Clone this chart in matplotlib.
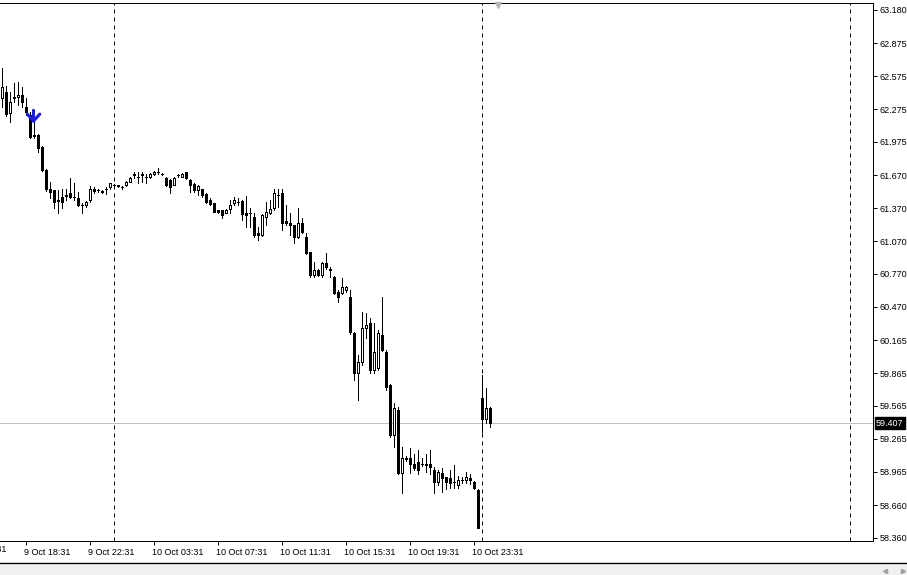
import matplotlib
matplotlib.use("Agg")
import matplotlib.pyplot as plt
import matplotlib.transforms as mtransforms
from matplotlib.lines import Line2D
from matplotlib.patches import Rectangle
import numpy as np

# M15 bars, oldest first
opens = [
    62.38, 62.43, 62.24, 62.38, 62.39, 62.40, 62.29, 62.22, 62.03, 62.04,
    61.93, 61.72, 61.55, 61.54, 61.45, 61.47, 61.49, 61.51, 61.47, 61.46,
    61.40, 61.40, 61.45, 61.55, 61.54, 61.53, 61.55, 61.56, 61.58, 61.58,
    61.56, 61.58, 61.61, 61.67, 61.66, 61.67, 61.66, 61.66, 61.68, 61.70,
    61.68, 61.65, 61.63, 61.58, 61.67, 61.66, 61.70, 61.63, 61.59, 61.54,
    61.55, 61.50, 61.45, 61.42, 61.35, 61.35, 61.33, 61.36, 61.42, 61.43,
    61.44, 61.33, 61.33, 61.29, 61.14, 61.13, 61.29, 61.33, 61.37, 61.49,
    61.51, 61.25, 61.24, 61.22, 61.11, 61.24, 61.11, 60.97, 60.76, 60.81,
    60.76, 60.87, 60.82, 60.74, 60.61, 60.60, 60.62, 60.56, 60.23, 59.87,
    59.97, 60.28, 60.32, 59.89, 59.91, 60.21, 60.06, 59.76, 59.30, 59.53,
    58.95, 59.08, 59.09, 59.04, 59.05, 59.04, 59.04, 59.04, 58.98, 58.87,
    58.95, 58.92, 58.91, 58.87, 58.84, 58.89, 58.89, 58.91, 58.87, 58.80,
    59.64, 59.45, 59.55,
]
highs = [
    62.65, 62.49, 62.43, 62.51, 62.52, 62.48, 62.38, 62.25, 62.24, 62.05,
    61.94, 61.73, 61.61, 61.54, 61.54, 61.55, 61.55, 61.65, 61.60, 61.52,
    61.42, 61.44, 61.57, 61.56, 61.55, 61.54, 61.56, 61.60, 61.59, 61.58,
    61.57, 61.62, 61.66, 61.70, 61.70, 61.70, 61.68, 61.69, 61.71, 61.74,
    61.69, 61.66, 61.64, 61.66, 61.68, 61.69, 61.70, 61.64, 61.60, 61.58,
    61.55, 61.51, 61.46, 61.42, 61.35, 61.35, 61.36, 61.45, 61.47, 61.46,
    61.45, 61.48, 61.37, 61.33, 61.20, 61.32, 61.43, 61.45, 61.55, 61.55,
    61.55, 61.40, 61.33, 61.22, 61.37, 61.28, 61.14, 60.97, 60.88, 60.82,
    60.88, 60.96, 60.83, 60.75, 60.62, 60.73, 60.66, 60.62, 60.24, 60.03,
    60.42, 60.41, 60.37, 60.32, 60.26, 60.56, 60.08, 59.77, 59.59, 59.56,
    59.19, 59.11, 59.18, 59.13, 59.16, 59.09, 59.13, 59.16, 59.01, 58.98,
    59.00, 58.92, 58.98, 59.03, 58.93, 58.92, 58.96, 58.94, 58.88, 58.81,
    59.85, 59.73, 59.56,
]
lows = [
    62.29, 62.21, 62.16, 62.34, 62.31, 62.29, 62.22, 62.01, 62.01, 61.88,
    61.71, 61.53, 61.46, 61.37, 61.33, 61.37, 61.45, 61.46, 61.45, 61.39,
    61.33, 61.38, 61.43, 61.51, 61.52, 61.51, 61.50, 61.55, 61.57, 61.56,
    61.55, 61.57, 61.61, 61.65, 61.60, 61.61, 61.60, 61.65, 61.67, 61.68,
    61.67, 61.57, 61.51, 61.58, 61.66, 61.66, 61.64, 61.52, 61.52, 61.49,
    61.47, 61.42, 61.40, 61.34, 61.33, 61.28, 61.33, 61.33, 61.40, 61.40,
    61.26, 61.20, 61.20, 61.11, 61.08, 61.12, 61.22, 61.32, 61.35, 61.38,
    61.17, 61.22, 61.13, 61.05, 61.10, 61.14, 60.95, 60.74, 60.74, 60.75,
    60.74, 60.82, 60.74, 60.59, 60.51, 60.59, 60.61, 60.22, 59.80, 59.62,
    59.94, 60.19, 59.87, 59.87, 59.89, 60.07, 59.71, 59.28, 59.19, 58.94,
    58.77, 59.06, 58.95, 58.98, 58.94, 59.02, 58.96, 58.94, 58.77, 58.84,
    58.78, 58.81, 58.82, 58.82, 58.82, 58.86, 58.86, 58.85, 58.81, 58.45,
    59.33, 59.41, 59.37,
]
closes = [
    62.48, 62.23, 62.34, 62.39, 62.40, 62.34, 62.25, 62.02, 62.04, 61.92,
    61.72, 61.55, 61.52, 61.43, 61.44, 61.43, 61.48, 61.47, 61.47, 61.40,
    61.40, 61.43, 61.55, 61.53, 61.54, 61.52, 61.55, 61.60, 61.58, 61.57,
    61.56, 61.61, 61.65, 61.68, 61.66, 61.68, 61.66, 61.68, 61.70, 61.70,
    61.68, 61.58, 61.56, 61.65, 61.67, 61.68, 61.65, 61.58, 61.54, 61.57,
    61.49, 61.43, 61.41, 61.34, 61.34, 61.31, 61.35, 61.40, 61.45, 61.43,
    61.32, 61.31, 61.33, 61.13, 61.13, 61.31, 61.34, 61.36, 61.51, 61.49,
    61.24, 61.24, 61.22, 61.11, 61.24, 61.15, 60.96, 60.76, 60.81, 60.76,
    60.87, 60.83, 60.81, 60.60, 60.56, 60.65, 60.65, 60.24, 59.87, 59.97,
    60.28, 60.30, 59.89, 60.06, 60.23, 60.08, 59.74, 59.30, 59.55, 58.95,
    59.09, 59.09, 59.04, 59.00, 58.98, 59.04, 59.03, 59.01, 58.87, 58.96,
    58.91, 58.87, 58.86, 58.87, 58.89, 58.89, 58.92, 58.89, 58.82, 58.45,
    59.45, 59.55, 59.407,
]

price_ticks = [63.180, 62.875, 62.575, 62.275, 61.975, 61.670, 61.370, 61.070,
               60.770, 60.470, 60.165, 59.865, 59.565, 59.265, 58.965, 58.660, 58.360]
time_tick_bars = [-10, 6, 22, 38, 54, 70, 86, 102, 118]
time_tick_labels = ["9 Oct 14:31", "9 Oct 18:31", "9 Oct 22:31", "10 Oct 03:31",
                    "10 Oct 07:31", "10 Oct 11:31", "10 Oct 15:31", "10 Oct 19:31",
                    "10 Oct 23:31"]
separator_bars = [28, 120, 212]
bid_price = 59.407
sell_arrow_bar = 8
sell_arrow_top, sell_arrow_tip = 62.29, 62.12
shift_marker_bar = 124

W, H = 907, 575
fig = plt.figure(figsize=(W / 100, H / 100), dpi=100)
fig.patch.set_facecolor("white")
ax = fig.add_axes([0, 34 / H, 873 / W, 538 / H])

o, h, l, c = map(np.array, (opens, highs, lows, closes))
x = np.arange(len(o))
up = c >= o
lw = 0.72  # one pixel

ax.vlines(x, l, h, color="black", lw=lw, zorder=3, antialiased=False)
bottoms = np.minimum(o, c)
heights = np.abs(c - o)
ax.bar(x[up], heights[up], width=0.5, bottom=bottoms[up], facecolor="white",
       edgecolor="black", linewidth=lw, zorder=4, antialiased=False)
ax.bar(x[~up], heights[~up], width=0.5, bottom=bottoms[~up], facecolor="black",
       edgecolor="black", linewidth=lw, zorder=4, antialiased=False)

for b in separator_bars:
    ax.axvline(b, color="black", lw=lw, linestyle=(0, (4, 4)), zorder=2)

ax.axhline(bid_price, color="#c0c0c0", lw=lw, zorder=2.5)

ax.annotate("", xy=(sell_arrow_bar, sell_arrow_tip), xytext=(sell_arrow_bar, sell_arrow_top),
            arrowprops=dict(arrowstyle="->,head_length=0.5,head_width=0.45",
                            color="#1c1ce0", lw=2.2), zorder=5)

trans_top = mtransforms.blended_transform_factory(ax.transData, ax.transAxes)
ax.plot([shift_marker_bar], [0.996], marker="v", ms=5, color="#b8b8b8",
        transform=trans_top, clip_on=False, zorder=6)

ax.set_xlim(-0.375, 217.875)
ax.set_ylim(58.3326, 63.2439)

ax.spines["left"].set_visible(False)
for s in ("top", "right", "bottom"):
    ax.spines[s].set_linewidth(lw)

font = {"family": "Liberation Sans", "size": 6.5, "color": "black"}

ax.yaxis.tick_right()
ax.set_yticks(price_ticks)
ax.set_yticklabels([f"{p:.3f}" for p in price_ticks], fontdict=font)
ax.tick_params(axis="y", length=3, width=lw, pad=1.5, direction="out")

vis = [(b, t) for b, t in zip(time_tick_bars, time_tick_labels) if b >= 0]
ax.set_xticks([b for b, _ in vis])
ax.set_xticklabels([t for _, t in vis], fontdict=font, ha="left")
ax.tick_params(axis="x", length=3, width=lw, pad=2, direction="out")
offset = mtransforms.ScaledTranslation(-2 / 100, 0, fig.dpi_scale_trans)
for lab in ax.get_xticklabels():
    lab.set_transform(lab.get_transform() + offset)
trans_bot = mtransforms.blended_transform_factory(ax.transData, ax.transAxes)
for b, t in zip(time_tick_bars, time_tick_labels):
    if b < 0:
        ax.text(b - 0.3, -0.0075, t, transform=trans_bot, ha="left", va="top",
                clip_on=False, **font)

# bid price box on the price scale
trans_right = mtransforms.blended_transform_factory(ax.transAxes, ax.transData)
ax.text(1.0035, bid_price, f"{bid_price:.3f}", transform=trans_right, ha="left",
        va="center", color="white", zorder=10, clip_on=False,
        bbox=dict(boxstyle="square,pad=0.15", facecolor="black", edgecolor="black"),
        **{k: v for k, v in font.items() if k != "color"})

# bottom status strip
fig.add_artist(Line2D([0, 1], [1 - 563 / H, 1 - 563 / H], color="black", lw=lw * 1.4,
                      transform=fig.transFigure))
fig.add_artist(Rectangle((0, 0), 1, 1 - 564.5 / H, transform=fig.transFigure,
                         facecolor="#f0f0f0", edgecolor="none"))
fig.add_artist(Line2D([885 / W], [1 - 571 / H], marker="<", ms=3, color="#a0a0a0",
                      transform=fig.transFigure))
fig.add_artist(Line2D([903 / W], [1 - 571 / H], marker=">", ms=3, color="#a0a0a0",
                      transform=fig.transFigure))

fig.savefig("out.png", dpi=100)
